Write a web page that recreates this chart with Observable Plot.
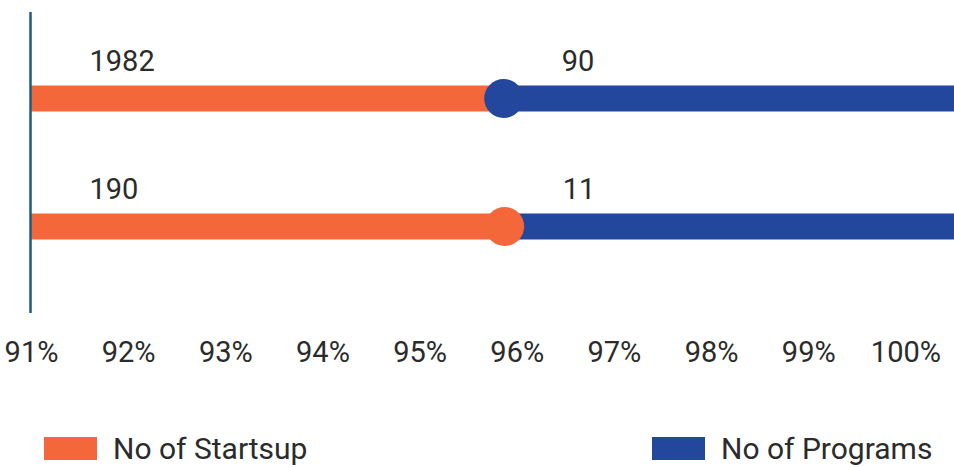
<!DOCTYPE html>
<html>
<head>
<meta charset="utf-8">
<script src="https://cdn.jsdelivr.net/npm/d3@7"></script>
<script src="https://cdn.jsdelivr.net/npm/@observablehq/plot@0.6"></script>
<style>
  html, body { margin: 0; padding: 0; background: #fff; }
  #wrap { position: relative; width: 954px; height: 467px; font-family: Roboto, "Noto Sans", sans-serif; color: #2b2b2b; }
  #chart svg { display: block; }
  .legend-item { position: absolute; top: 437px; display: flex; align-items: center; height: 23px; font-size: 30px; white-space: nowrap; }
  .swatch { width: 53px; height: 23px; margin-right: 16px; flex: none; }
</style>
</head>
<body>
<div id="wrap">
  <div id="chart"></div>
  <div id="legend"></div>
</div>
<script>
// ---- data ----
const rows = ["Row 1", "Row 2"];
const startups = [1982, 190];
const programs = [90, 11];
const splitPct = [95.86, 95.87];   // share where the orange segment ends
const axisStart = 91;
const axisEnd = 100.5;
const xTicks = [91, 92, 93, 94, 95, 96, 97, 98, 99, 100];
const seriesNames = ["No of Startsup", "No of Programs"];
const markerSeries = ["No of Programs", "No of Startsup"];
const seriesColors = ["#F3673A", "#22479C"];

// ---- tables built from the arrays ----
const segments = rows.flatMap((row, i) => [
  { row, series: seriesNames[0], x1: axisStart, x2: splitPct[i], label: String(startups[i]) },
  { row, series: seriesNames[1], x1: splitPct[i], x2: axisEnd, label: String(programs[i]) }
]);
const markers = rows.map((row, i) => ({ row, x: splitPct[i], series: markerSeries[i] }));

const chart = Plot.plot({
  width: 954,
  height: 380,
  marginLeft: 31,
  marginRight: 0,
  marginTop: 12,
  marginBottom: 67,
  style: { fontFamily: "Roboto, 'Noto Sans', sans-serif", color: "#2b2b2b", background: "white" },
  x: { domain: [axisStart, axisEnd], range: [31, 954] },
  y: { type: "point", domain: rows, range: [98, 226], padding: 0, axis: null },
  color: { domain: seriesNames, range: seriesColors },
  marks: [
    Plot.ruleY(segments, { y: "row", x1: "x1", x2: "x2", stroke: "series", strokeWidth: 26 }),
    Plot.ruleX([axisStart], { stroke: "#1B5C82", strokeWidth: 2.5, dx: -1 }),
    Plot.dot(markers, { x: "x", y: "row", fill: "series", r: 19.5 }),
    Plot.text(segments, { x: "x1", y: "row", text: "label", textAnchor: "start", dx: 58, dy: -37, fontSize: 29, fill: "#2b2b2b" }),
    Plot.axisX({ ticks: xTicks, tickFormat: d => d + "%", tickSize: 0, tickPadding: 28, fontSize: 29, fill: "#2b2b2b" })
  ]
});
document.getElementById("chart").appendChild(chart);

// legend (HTML, below the SVG)
const legendLeft = [44, 652];
const legend = document.getElementById("legend");
seriesNames.forEach((name, i) => {
  const item = document.createElement("div");
  item.className = "legend-item";
  item.style.left = legendLeft[i] + "px";
  const sw = document.createElement("div");
  sw.className = "swatch";
  sw.style.background = seriesColors[i];
  const label = document.createElement("span");
  label.textContent = name;
  item.appendChild(sw);
  item.appendChild(label);
  legend.appendChild(item);
});
</script>
</body>
</html>
